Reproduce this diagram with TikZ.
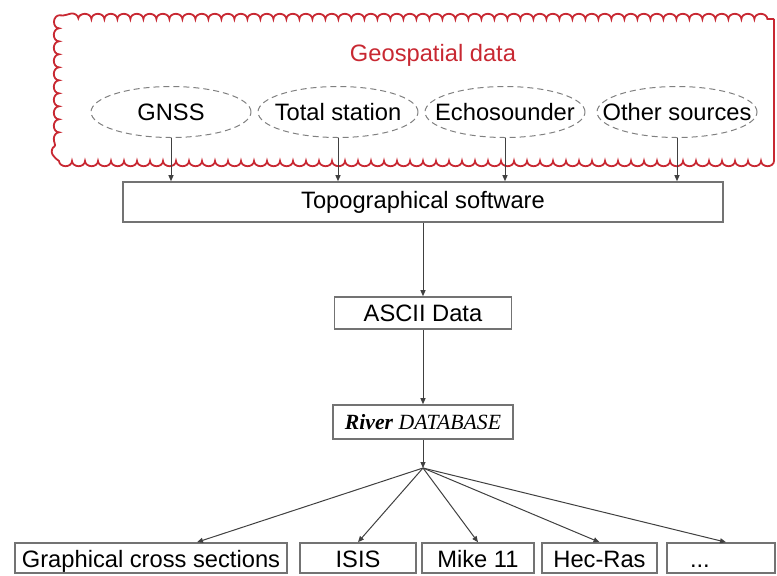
\documentclass[tikz,border=0pt]{standalone}
\usepackage{fontspec}
\setmainfont{Liberation Sans}
\newfontfamily\timesfont{Liberation Serif}
\usetikzlibrary{shapes.geometric,arrows.meta,decorations.pathmorphing,decorations.shapes}
\definecolor{cloudred}{RGB}{200,40,50}
\definecolor{boxgray}{RGB}{115,115,115}
\begin{document}
\begin{tikzpicture}[x=0.5pt,y=-0.5pt,
	every node/.style={font=\fontsize{11.85}{14}\selectfont, inner sep=0pt},
	srcnode/.style={ellipse, draw=gray, densely dashed, line width=0.5pt, inner xsep=-9pt, minimum width=80pt, minimum height=25.5pt},
	box/.style={rectangle, draw=boxgray, line width=0.8pt, minimum height=16pt},
	outbox/.style={box, minimum height=15pt, text height=11pt, text depth=2pt},
	link/.style={draw=black!75, line width=0.5pt, -{Triangle[length=3pt,width=2.5pt]}}]
	\useasboundingbox (0,0) rectangle (777,575);
	% geospatial data cloud
	\draw[cloudred, line width=0.9pt] (774,19) -- (774,161)
		decorate[decoration={bumps, segment length=13pt, amplitude=2.6pt}] {-- (72,161) .. controls (59,161) .. (59,147) -- (59,33) .. controls (59,19) .. (72,19) -- (774,19)};
	\node[text=cloudred] (geo) at (433,55) {Geospatial data};
	\node[srcnode] (gnss) at (171,112) {GNSS};
	\node[srcnode] (total) at (338,112) {Total station};
	\node[srcnode] (echo) at (505,112) {Echosounder};
	\node[srcnode] (other) at (677,112) {Other sources};
	% processing chain
	\node[box, minimum width=300pt, minimum height=20pt] (topo) at (423,202) {Topographical software};
	\node[box, minimum width=88.5pt] (ascii) at (423,313) {ASCII Data};
	\node[box, minimum width=90pt, minimum height=17pt, font=\timesfont\fontsize{10.85}{13}\selectfont\itshape] (db) at (423,422) {\textbf{River} DATABASE};
	\coordinate (fan) at (423,468);
	% outputs
	\node[outbox, minimum width=136pt] (gcs) at (151,558) {Graphical cross sections};
	\node[outbox, minimum width=58pt] (isis) at (358,558) {ISIS};
	\node[outbox, minimum width=56pt] (mike) at (478,558) {Mike 11};
	\node[outbox, minimum width=57.5pt] (hec) at (599.5,558) {Hec-Ras};
	\node[outbox, minimum width=54pt, text width=31pt, align=left, inner xsep=11.5pt] (more) at (721,558) {...};
	% connectors
	\foreach \src in {gnss,total,echo,other}
		\draw[link] (\src.south) -- (\src.south |- topo.north);
	\draw[link] (topo) -- (ascii);
	\draw[link] (ascii) -- (db);
	\draw[link] (db) -- (fan);
	\draw[link] (fan) -- ([xshift=23pt]gcs.north);
	\foreach \dst in {isis,mike,hec}
		\draw[link] (fan) -- (\dst.north);
	\draw[link] (fan) -- ([xshift=2.5pt]more.north);
\end{tikzpicture}
\end{document}
